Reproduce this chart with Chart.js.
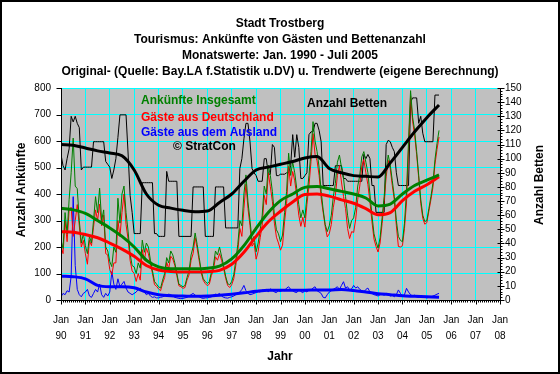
<!DOCTYPE html>
<html><head><meta charset="utf-8">
<script src="https://cdn.jsdelivr.net/npm/chart.js@4.4.0/dist/chart.umd.min.js"></script>
<style>html,body{margin:0;padding:0;background:#fff;}canvas{display:block;}</style>
</head><body>
<canvas id="c" width="560" height="374"></canvas>
<script>
const titleLines = [
  'Stadt Trostberg',
  'Tourismus: Ankünfte von Gästen und Bettenanzahl',
  'Monatswerte: Jan. 1990 - Juli 2005',
  'Original- (Quelle: Bay.LA f.Statistik u.DV) u. Trendwerte (eigene Berechnung)'
];
const yearLabels = ['90','91','92','93','94','95','96','97','98','99','00','01','02','03','04','05','06','07','08'];
const seriesNames = ['Ankünfte Insgesamt','Gäste aus Deutschland','Gäste aus dem Ausland','© StratCon','Anzahl Betten'];

// monthly values Jan 1990 - Jul 2005
const totalArrivals = [
 226,195,330,250,380,480,611,430,420,300,215,250,
 205,175,240,215,300,390,330,422,300,340,200,185,
 145,126,200,180,384,290,400,430,330,260,175,130,
 125,100,140,120,226,180,215,200,150,110,70,60,
 50,45,75,100,160,140,185,170,140,100,60,55,
 50,55,85,110,170,200,253,210,160,110,80,70,
 62,70,105,130,185,170,200,165,130,90,62,57,
 70,95,150,210,300,280,400,472,370,300,225,240,
 182,215,265,320,430,400,509,470,410,320,265,250,
 220,245,330,410,554,470,520,480,420,360,310,340,
 310,390,470,560,673,600,560,500,410,340,285,258,
 280,320,390,440,520,547,500,460,390,320,270,300,
 310,350,430,470,540,560,520,480,400,320,250,220,
 196,235,310,390,490,547,510,450,390,300,240,225,
 220,290,410,600,790,690,640,560,470,380,320,296,
 300,345,390,440,530,590,640
];
const germanGuests = [
 205,175,300,220,340,350,240,300,360,280,200,225,
 175,135,225,205,275,340,300,362,280,320,175,170,
 115,95,140,140,300,240,330,400,285,230,150,110,
 100,70,100,75,190,150,195,175,135,100,58,52,
 42,35,63,85,142,118,165,155,130,92,54,50,
 44,47,75,95,150,175,235,195,148,102,74,62,
 54,60,93,112,163,150,175,150,120,82,55,47,
 58,80,130,185,270,240,345,437,345,280,203,215,
 154,183,235,282,395,360,479,428,372,290,237,215,
 188,207,295,365,504,430,485,450,392,320,278,312,
 275,360,430,522,628,550,525,470,385,330,277,238,
 250,285,350,395,470,507,445,391,345,270,232,258,
 255,305,380,430,505,530,480,435,370,295,230,202,
 181,215,288,372,465,527,495,432,378,280,202,200,
 205,270,366,570,770,675,622,548,460,365,308,286,
 292,335,378,425,512,568,615
];
const foreignGuests = [
 12,25,20,35,30,90,390,130,40,20,12,25,
 30,40,15,10,25,40,30,60,20,10,25,15,
 30,107,60,40,80,50,60,70,45,30,25,20,
 25,30,40,45,35,30,20,25,15,10,12,8,
 8,10,12,15,18,22,20,15,10,8,6,5,
 6,8,10,15,20,25,18,15,12,8,6,8,
 8,10,12,18,22,20,25,15,10,8,7,10,
 12,15,20,25,30,40,55,35,25,20,22,25,
 28,32,30,38,35,40,30,42,38,30,28,35,
 32,38,35,45,50,40,35,30,28,40,32,28,
 35,30,40,38,45,50,35,30,25,10,8,20,
 30,35,40,45,50,40,55,69,45,50,38,42,
 55,45,50,40,35,30,40,45,30,25,20,18,
 15,20,22,18,25,20,15,18,12,20,38,25,
 15,20,44,30,20,15,18,12,10,15,12,10,
 8,10,12,15,18,22,25
];
const beds = [
 103,95,92,100,107,130,126,130,125,122,92,94,
 94,94,94,94,112,112,112,112,112,112,98,96,
 94,86,92,100,115,131,131,131,131,104,74,62,
 47,47,47,47,83,83,83,83,83,83,47,47,
 45,45,45,45,91,84,84,84,84,84,45,45,
 45,45,45,45,45,80,80,80,80,80,80,45,
 45,45,45,45,80,80,80,80,80,51,51,51,
 51,51,51,51,93,100,114,125,125,112,93,90,
 88,84,84,84,100,100,89,89,110,108,88,88,
 89,89,89,90,90,95,117,101,117,108,86,86,
 88,90,117,119,119,125,125,120,112,81,81,81,
 81,81,81,95,95,95,95,86,86,84,84,84,
 84,84,84,84,84,103,100,103,100,81,81,62,
 62,62,62,62,110,113,112,108,105,90,81,81,
 81,81,81,81,140,143,143,143,125,130,118,112,
 112,112,112,112,145,145,145
];

// trend values (every 6 months)
const trendMonths = [0,6,12,18,24,30,36,42,48,54,60,66,72,78,84,90,96,102,108,114,120,126,132,138,144,150,156,162,168,174,180,186];
const totalTrend   = [346,340,327,300,272,240,200,150,125,118,118,118,120,128,155,205,270,330,375,400,425,428,420,410,400,385,355,362,400,432,452,472];
const germanTrend  = [258,256,247,235,215,192,165,130,113,108,106,106,107,112,135,180,240,295,335,370,398,400,392,378,365,345,322,330,375,410,435,465];
const foreignTrend = [90,88,80,55,50,50,46,30,20,16,15,14,15,18,22,27,33,37,37,37,37,38,38,40,36,30,24,20,16,14,12,10];
const bedsTrend    = [110,109.5,107.5,105.5,104,102,92,75,67,65,63.5,62.5,63,69,75,84,92,94,96,98,100.5,101.5,93,90,88,87.5,87,97,108,119,129,138];

const FONT = '"Liberation Sans", Arial, sans-serif';
const mpts = arr => arr.map((v, i) => ({x: i, y: v}));
const tpts = arr => arr.map((v, i) => ({x: trendMonths[i], y: v}));

const bgPlugin = {
  id: 'bg',
  beforeDraw(chart) {
    const c = chart.ctx, a = chart.chartArea;
    c.save();
    c.fillStyle = '#fff';
    c.fillRect(0, 0, chart.width, chart.height);
    c.fillStyle = '#C0C0C0';
    c.fillRect(a.left, a.top, a.right - a.left, a.bottom - a.top);
    c.restore();
  }
};

const decoPlugin = {
  id: 'deco',
  afterDraw(chart) {
    const c = chart.ctx, a = chart.chartArea;
    const xs = chart.scales.x, ys = chart.scales.y, y1 = chart.scales.y1;
    c.save();
    c.strokeStyle = '#000';
    c.lineWidth = 1;
    c.beginPath();
    const L = Math.round(a.left) + 0.5, R = Math.round(a.right) + 0.5, B = Math.round(a.bottom) + 0.5;
    c.moveTo(L, a.top); c.lineTo(L, B);
    c.moveTo(L, B); c.lineTo(R, B);
    c.moveTo(R, a.top); c.lineTo(R, B);
    for (let m = 0; m <= 216; m++) {
      const x = Math.round(xs.getPixelForValue(m)) + 0.5;
      c.moveTo(x, B); c.lineTo(x, B + (m % 12 === 0 ? 4 : 2));
    }
    for (let v = 0; v <= 800; v += 100) {
      const y = Math.round(ys.getPixelForValue(v)) + 0.5;
      c.moveTo(L - 5, y); c.lineTo(L, y);
    }
    for (let v = 0; v <= 150; v += 2) {
      const y = Math.round(y1.getPixelForValue(v)) + 0.5;
      if (v % 10 === 0) { c.moveTo(R - 3, y); c.lineTo(R + 4, y); }
      else { c.moveTo(R, y); c.lineTo(R + 2, y); }
    }
    c.stroke();

    c.fillStyle = '#000';
    c.textAlign = 'center';
    c.textBaseline = 'middle';
    c.font = 'bold 12px ' + FONT;
    titleLines.forEach((t, i) => c.fillText(t, 280, 24 + i * 16));
    c.fillText('Jahr', 280, 357);
    c.save(); c.translate(22, 190); c.rotate(-Math.PI / 2); c.fillText('Anzahl Ankünfte', 0, 0); c.restore();
    c.save(); c.translate(540, 185); c.rotate(-Math.PI / 2); c.fillText('Anzahl Betten', 0, 0); c.restore();

    c.textAlign = 'left';
    c.font = 'bold 12px ' + FONT;
    c.fillStyle = '#008000'; c.fillText(seriesNames[0], 141, 101);
    c.fillStyle = '#FF0000'; c.fillText(seriesNames[1], 141, 118);
    c.fillStyle = '#0000FF'; c.fillText(seriesNames[2], 141, 133);
    c.fillStyle = '#000000'; c.fillText(seriesNames[3], 173, 147);
    c.fillText(seriesNames[4], 307, 104);

    c.lineWidth = 2;
    c.strokeRect(1, 1, chart.width - 2, chart.height - 2);
    c.restore();
  }
};

new Chart(document.getElementById('c'), {
  type: 'line',
  data: {
    datasets: [
      {data: tpts(bedsTrend), yAxisID: 'y1', borderColor: '#000000', borderWidth: 3, order: 0, cubicInterpolationMode: 'monotone'},
      {data: tpts(totalTrend), yAxisID: 'y', borderColor: '#008000', borderWidth: 3, order: 1, cubicInterpolationMode: 'monotone'},
      {data: tpts(germanTrend), yAxisID: 'y', borderColor: '#FF0000', borderWidth: 3, order: 2, cubicInterpolationMode: 'monotone'},
      {data: tpts(foreignTrend), yAxisID: 'y', borderColor: '#0000FF', borderWidth: 3, order: 3, cubicInterpolationMode: 'monotone'},
      {data: mpts(totalArrivals), yAxisID: 'y', borderColor: '#008000', borderWidth: 1, order: 4},
      {data: mpts(germanGuests), yAxisID: 'y', borderColor: '#FF0000', borderWidth: 1, order: 5},
      {data: mpts(foreignGuests), yAxisID: 'y', borderColor: '#0000FF', borderWidth: 1, order: 6},
      {data: mpts(beds), yAxisID: 'y1', borderColor: '#000000', borderWidth: 1, order: 7}
    ]
  },
  options: {
    responsive: false,
    animation: false,
    devicePixelRatio: 1,
    elements: {point: {radius: 0}, line: {tension: 0, fill: false}},
    plugins: {legend: {display: false}, tooltip: {enabled: false}, title: {display: false}},
    layout: {padding: {top: 88, left: 0, right: 0, bottom: 0}},
    scales: {
      x: {
        type: 'linear', min: 0, max: 216,
        afterFit(s) { s.height = 74; },
        grid: {color: '#00FFFF', lineWidth: 1, drawTicks: false},
        border: {display: false},
        ticks: {
          stepSize: 12, autoSkip: false, maxRotation: 0, padding: 12, color: '#000',
          font: {family: FONT, size: 10, lineHeight: 1.6},
          callback(v) { return v % 12 === 0 ? ['Jan', yearLabels[v / 12]] : ''; }
        }
      },
      y: {
        position: 'left', min: 0, max: 800,
        afterFit(s) { s.width = 61; },
        grid: {color: '#00FFFF', lineWidth: 1, drawTicks: false},
        border: {display: false},
        ticks: {stepSize: 100, padding: 10, color: '#000', font: {family: FONT, size: 10}}
      },
      y1: {
        position: 'right', min: 0, max: 150,
        afterFit(s) { s.width = 60; },
        grid: {drawOnChartArea: false, drawTicks: false},
        border: {display: false},
        ticks: {stepSize: 10, autoSkip: false, padding: 5, color: '#000', font: {family: FONT, size: 10}}
      }
    }
  },
  plugins: [bgPlugin, decoPlugin]
});
</script>
</body></html>
